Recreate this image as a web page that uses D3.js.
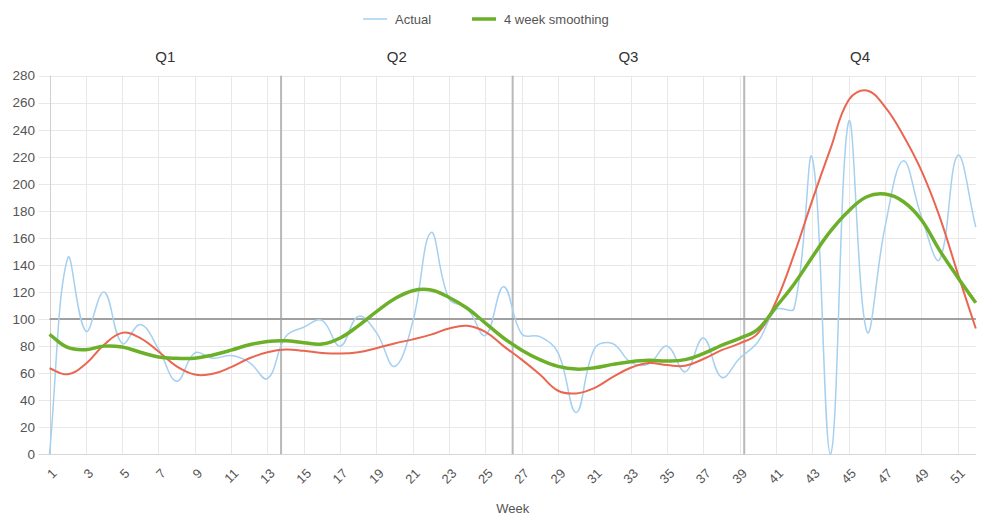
<!DOCTYPE html>
<html>
<head>
<meta charset="utf-8">
<script src="https://cdn.jsdelivr.net/npm/d3@7"></script>
<style>
  body { margin: 0; background: #fff; }
  text { font-family: "Liberation Sans", Arial, sans-serif; }
</style>
</head>
<body>
<div id="chart"></div>
<script>
(function() {

    var width = 990;
    var height = 519;

    // weeks on the x axis
    var weeks = d3.range(1, 53);
    var quarters = ["Q1", "Q2", "Q3", "Q4"];
    var yTicks = [0, 20, 40, 60, 80, 100, 120, 140, 160, 180, 200, 220, 240, 260, 280];

    // weekly values
    var actual = [0, 145, 91, 120, 82, 96, 78, 54, 75, 71, 73, 68, 56, 87, 94, 99, 80, 102, 90, 65,
                  98, 164, 115, 108, 88, 124, 89, 87, 75, 31, 78, 82, 68, 67, 80, 61, 86, 57, 71, 83,
                  107, 108, 219, 0, 246, 91, 168, 217, 176, 144, 221, 168];
    var smoothing = [88.7, 79, 77.4, 80, 79.3, 75.5, 72, 71, 71, 73.5, 77, 81, 83.5, 84, 82.5, 81.5, 86, 95, 105.5, 115,
                     121, 121.5, 116, 108, 97, 86, 77, 70, 65, 63, 64, 66.5, 68.5, 69.5, 69, 70, 74.5, 80.5, 85.8, 92.4,
                     109, 126, 146, 165, 180, 190.5, 192.5, 187, 173.5, 151, 131, 112];
    var trend = [63.6, 59.2, 67, 81, 89.8, 86, 76, 65, 59, 59.5, 64.5, 71, 75.5, 77.5, 76.5, 75, 74.5, 75.5, 78.5, 82,
                 85, 88.5, 93, 95, 90.5, 80, 70, 59, 47, 45, 49, 57, 64, 67.5, 66, 65.5, 70.5, 77, 82, 89.5,
                 113, 148, 188, 226, 262, 269, 257, 236, 210, 176, 134, 93];

    var left = 49.5, right = 975.8, top = 75.7, bottom = 454.3;

    var svg = d3.select("#chart")
        .append("svg")
        .attr("width", width)
        .attr("height", height)

    var x = d3.scaleLinear().domain([1, 52]).range([left, right]);
    var y = d3.scaleLinear().domain([0, 280]).range([bottom, top]);

    //Horizontal gridlines, with the little tick stubs on the left
    svg.append("g")
        .selectAll("line")
        .data(yTicks)
        .enter().append("line")
        .attr("x1", left - 11)
        .attr("x2", right)
        .attr("y1", function(d) { return Math.round(y(d)) + 0.5 })
        .attr("y2", function(d) { return Math.round(y(d)) + 0.5 })
        .attr("stroke", function(d) { return d === 0 ? "#d6d6d6" : "#e8e8e8" })

    //Vertical gridlines on the labelled weeks
    svg.append("g")
        .selectAll("line")
        .data(weeks.filter(function(d) { return d % 2 === 1 }))
        .enter().append("line")
        .attr("x1", function(d) { return Math.round(x(d)) + 0.5 })
        .attr("x2", function(d) { return Math.round(x(d)) + 0.5 })
        .attr("y1", top)
        .attr("y2", bottom)
        .attr("stroke", function(d) { return d === 1 ? "#cfcfcf" : "#e8e8e8" })

    //Y labels
    svg.append("g")
        .selectAll("text")
        .data(yTicks)
        .enter().append("text")
        .attr("x", 35)
        .attr("y", function(d) { return y(d) })
        .attr("dy", "0.35em")
        .attr("text-anchor", "end")
        .attr("font-size", "13.5px")
        .attr("fill", "#555")
        .text(function(d) { return d })

    //X labels, rotated
    svg.append("g")
        .selectAll("text")
        .data(weeks.filter(function(d) { return d % 2 === 1 }))
        .enter().append("text")
        .attr("transform", function(d) { return "translate(" + (x(d) + 5) + ",471) rotate(-45)" })
        .attr("dy", "0.35em")
        .attr("text-anchor", "end")
        .attr("font-size", "13px")
        .attr("fill", "#555")
        .text(function(d) { return d })

    svg.append("text")
        .attr("x", (left + right) / 2)
        .attr("y", 508)
        .attr("dy", "0.35em")
        .attr("text-anchor", "middle")
        .attr("font-size", "13px")
        .attr("fill", "#555")
        .text("Week")

    //Quarter separators and titles
    var quarterX = d3.scaleLinear().domain([0, 4]).range([left, right]);

    svg.append("g")
        .selectAll("line")
        .data([1, 2, 3])
        .enter().append("line")
        .attr("x1", function(d) { return quarterX(d) })
        .attr("x2", function(d) { return quarterX(d) })
        .attr("y1", top)
        .attr("y2", bottom)
        .attr("stroke", "#b8b8b8")
        .attr("stroke-width", 2)

    svg.append("g")
        .selectAll("text")
        .data(quarters)
        .enter().append("text")
        .attr("x", function(d, i) { return quarterX(i + 0.5) })
        .attr("y", 57)
        .attr("dy", "0.35em")
        .attr("text-anchor", "middle")
        .attr("font-size", "15px")
        .attr("fill", "#333")
        .text(function(d) { return d })

    //Reference line at 100
    svg.append("line")
        .attr("x1", left)
        .attr("x2", right)
        .attr("y1", y(100))
        .attr("y2", y(100))
        .attr("stroke", "#a0a0a0")
        .attr("stroke-width", 2)

    //Spline like the one chart.js draws (tension 0.4), control points kept inside the plot
    function splineCurve(context) {
        var pts;
        return {
            areaStart: function() {},
            areaEnd: function() {},
            lineStart: function() { pts = [] },
            point: function(px, py) { pts.push([px, py]) },
            lineEnd: function() {
                var n = pts.length, t = 0.4;
                var cps = pts.map(function(p, i) {
                    var prev = pts[Math.max(i - 1, 0)], next = pts[Math.min(i + 1, n - 1)];
                    var d01 = Math.hypot(p[0] - prev[0], p[1] - prev[1]);
                    var d12 = Math.hypot(next[0] - p[0], next[1] - p[1]);
                    var s01 = d01 / (d01 + d12) || 0, s12 = d12 / (d01 + d12) || 0;
                    var fa = t * s01, fb = t * s12;
                    var cl = function(v) { return Math.max(top, Math.min(bottom, v)) };
                    return {
                        px: p[0] - fa * (next[0] - prev[0]), py: cl(p[1] - fa * (next[1] - prev[1])),
                        nx: p[0] + fb * (next[0] - prev[0]), ny: cl(p[1] + fb * (next[1] - prev[1]))
                    };
                });
                context.moveTo(pts[0][0], pts[0][1]);
                for (var i = 1; i < n; i++) {
                    context.bezierCurveTo(cps[i - 1].nx, cps[i - 1].ny, cps[i].px, cps[i].py, pts[i][0], pts[i][1]);
                }
            }
        };
    }

    var line = d3.line()
        .x(function(d, i) { return x(weeks[i]) })
        .y(function(d) { return y(d) })
        .curve(splineCurve)

    svg.append("path")
        .attr("d", line(actual))
        .attr("fill", "none")
        .attr("stroke", "#a6d0f0")
        .attr("stroke-width", 1.5)

    svg.append("path")
        .attr("d", line(trend))
        .attr("fill", "none")
        .attr("stroke", "#ea6651")
        .attr("stroke-width", 2)

    svg.append("path")
        .attr("d", line(smoothing))
        .attr("fill", "none")
        .attr("stroke", "#6cb02a")
        .attr("stroke-width", 3.5)

    //Legend
    var legend = [
        {label: "Actual", color: "#a6d0f0", w: 1.5, x: 363},
        {label: "4 week smoothing", color: "#6cb02a", w: 3.5, x: 472}
    ]
    var items = svg.append("g")
        .selectAll("g")
        .data(legend)
        .enter().append("g")
        .attr("transform", function(d) { return "translate(" + d.x + ",19)" })
    items.append("line")
        .attr("x1", 0)
        .attr("x2", 24)
        .attr("stroke", function(d) { return d.color })
        .attr("stroke-width", function(d) { return d.w })
    items.append("text")
        .attr("x", 32)
        .attr("dy", "0.35em")
        .attr("font-size", "13px")
        .attr("fill", "#555")
        .text(function(d) { return d.label })

})();
</script>
</body>
</html>
